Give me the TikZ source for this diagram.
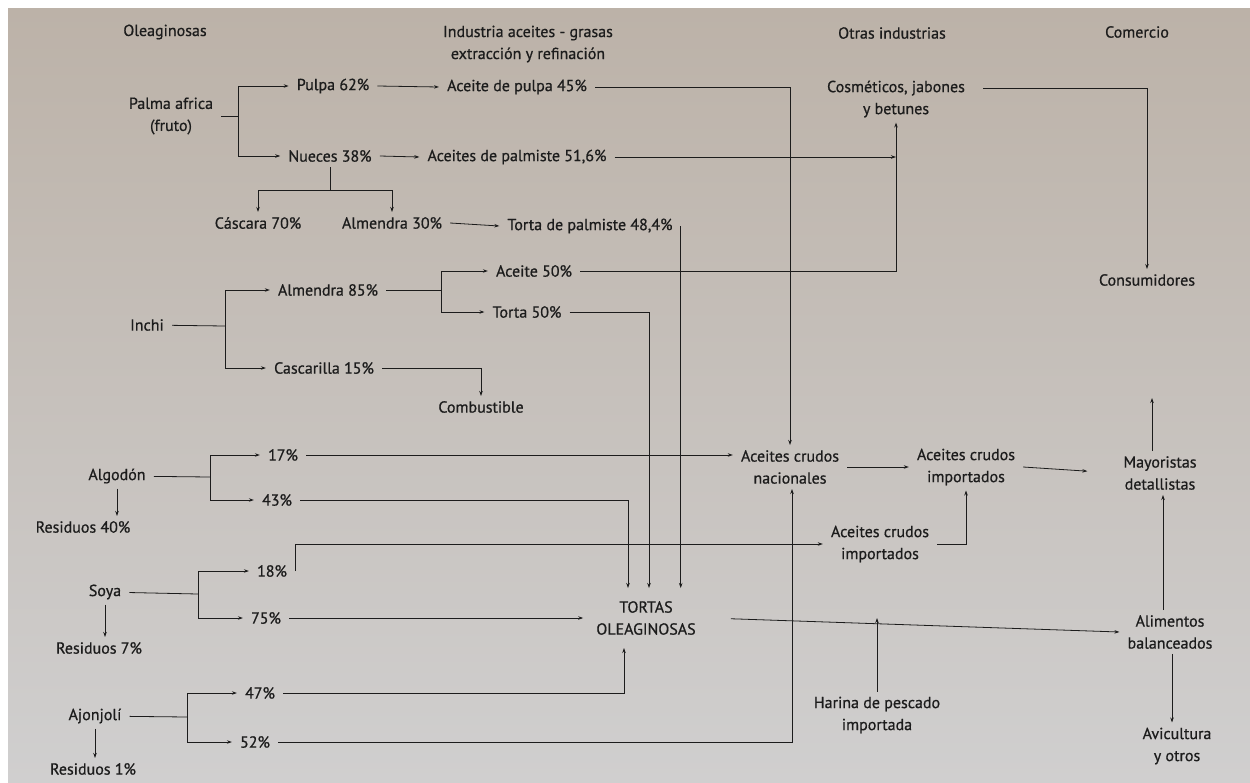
\documentclass[tikz,border=0pt]{standalone}
\usepackage{fontspec}
\setmainfont{PT Sans}[BoldFont=PT Sans, BoldFeatures={FakeBold=0.7}]
\usetikzlibrary{arrows.meta}
\definecolor{papel}{RGB}{188,178,168}
\definecolor{papelbajo}{RGB}{208,207,207}
\definecolor{tinta}{RGB}{28,28,28}

\begin{document}
\begin{tikzpicture}[x=1pt, y=-1pt,
    every node/.style={inner xsep=8pt, inner ysep=5pt, align=center, text=tinta,
      font=\fontsize{16}{22}\selectfont\bfseries},
    linea/.style={draw=tinta, line width=0.8pt},
    flecha/.style={linea, -{Stealth[length=5pt,width=3.5pt]}}]
    % fondo de la pagina
    \useasboundingbox (0,0) rectangle (1250,782);
    \fill[white] (0,0) rectangle (1250,782);
    \shade[top color=papel, bottom color=papelbajo] (8,8) rectangle (1250,782);

    % encabezados de columnas
    \node (olea) at (165,32) {Oleaginosas};
    \node (indus) at (528,44) {Industria aceites - grasas\\extracción y refinación};
    \node (otras) at (892,33) {Otras industrias};
    \node (comer) at (1137,32) {Comercio};

    % palma africana
    \node (palma) at (171,116) {Palma africa\\(fruto)};
    \node (pulpa) at (333,86) {Pulpa 62\%};
    \node (nueces) at (330,156) {Nueces 38\%};
    \node (apulpa) at (517,87) {Aceite de pulpa 45\%};
    \node (apalm) at (517,157) {Aceites de palmiste 51,6\%};
    \node (cascara) at (258,223) {Cáscara 70\%};
    \node (alm30) at (392,223) {Almendra 30\%};
    \node (tpalm) at (590,226) {Torta de palmiste 48,4\%};
    \node (cosme) at (896,99) {Cosméticos, jabones\\y betunes};
    \node (consu) at (1147,280) {Consumidores};

    % inchi
    \node (inchi) at (147,325) {Inchi};
    \node (alm85) at (328,290) {Almendra 85\%};
    \node (casca) at (324,368) {Cascarilla 15\%};
    \node (ac50) at (534,271) {Aceite 50\%};
    \node (to50) at (527,312) {Torta 50\%};
    \node (combu) at (481,407) {Combustible};

    % algodon, soya, ajonjoli
    \node (algo) at (117,476) {Algodón};
    \node (res40) at (83,527) {Residuos 40\%};
    \node (p17) at (283,455) {17\%};
    \node (p43) at (277,500) {43\%};
    \node (soya) at (105,592) {Soya};
    \node (res7) at (99,648) {Residuos 7\%};
    \node (p18) at (272,571) {18\%};
    \node (p75) at (266,618) {75\%};
    \node (ajon) at (95,716) {Ajonjolí};
    \node (res1) at (93,769) {Residuos 1\%};
    \node (p47) at (260,693) {47\%};
    \node (p52) at (255,742) {52\%};

    % destinos
    \node (acn) at (790,467) {Aceites crudos\\nacionales};
    \node (aci) at (966,467) {Aceites crudos\\importados};
    \node (aci2) at (880,544) {Aceites crudos\\importados};
    \node (mayo) at (1160,473) {Mayoristas\\detallistas};
    \node[inner sep=13pt] (tortas) at (646,618) {TORTAS\\OLEAGINOSAS};
    \node (harina) at (877,715) {Harina de pescado\\importada};
    \node (alim) at (1170,632) {Alimentos\\balanceados};
    \node (avic) at (1177,746) {Avicultura\\y otros};

    % puntos de bifurcacion
    \coordinate (bpalma) at (238,116);
    \coordinate (bnueces) at (330,190);
    \coordinate (binchi) at (225,326);
    \coordinate (balm) at (441,290);
    \coordinate (balgo) at (210,477);
    \coordinate (bsoya) at (198,594);
    \coordinate (bajon) at (187,717);
    \coordinate (mayotop) at (1152,398);

    % flechas de palma
    \draw[linea] (palma) -- (bpalma);
    \draw[flecha] (bpalma) |- (pulpa);
    \draw[flecha] (bpalma) |- (nueces);
    \draw[flecha] (pulpa.east) -- (apulpa.west);
    \draw[flecha] (nueces.east) -- (apalm.west);
    \draw[linea] (nueces) -- (bnueces);
    \draw[flecha] (bnueces) -| (cascara);
    \draw[flecha] (bnueces) -| (alm30);
    \draw[flecha] (alm30.east) -- (tpalm.west);
    \draw[flecha] (tpalm.east) -- (tpalm.east |- tortas.north);
    \draw[flecha] (apulpa.east) -| (acn.north);
    \draw[flecha] (apalm.east) -- (apalm.east -| cosme.south);
    \draw[flecha, shorten <=10pt] ([yshift=11pt]cosme.east) -| (consu.north);

    % flechas de inchi
    \draw[linea] (inchi) -- (binchi);
    \draw[flecha] (binchi) |- (alm85);
    \draw[flecha] (binchi) |- (casca);
    \draw[linea] (alm85) -- (balm);
    \draw[flecha] (balm) |- (ac50);
    \draw[flecha] (balm) |- (to50);
    \draw[flecha] (ac50.east) -| (cosme.south);
    \draw[flecha] (to50.east) -| ([xshift=3pt]tortas.north);
    \draw[flecha] (casca.east) -| (combu.north);

    % flechas de algodon
    \draw[flecha] (algo.south) -- (algo.south |- res40.north);
    \draw[linea] (algo) -- (balgo);
    \draw[flecha] (balgo) |- (p17);
    \draw[flecha] (balgo) |- (p43);
    \draw[flecha] (p17.east) -- (p17.east -| acn.west);
    \draw[flecha] (p43.east) -| ([xshift=-18pt]tortas.north);

    % flechas de soya
    \draw[flecha] (soya.south) -- (soya.south |- res7.north);
    \draw[linea] (soya) -- (bsoya);
    \draw[flecha] (bsoya) |- (p18);
    \draw[flecha] (bsoya) |- (p75);
    \draw[flecha] (p18.east) |- (aci2.west);
    \draw[flecha] (p75.east) -- (p75.east -| tortas.west);

    % flechas de ajonjoli
    \draw[flecha] (ajon.south) -- (ajon.south |- res1.north);
    \draw[linea] (ajon) -- (bajon);
    \draw[flecha] (bajon) |- (p47);
    \draw[flecha] (bajon) |- (p52);
    \draw[flecha] (p47.east) -| ([xshift=-22pt]tortas.south);
    \draw[flecha] (p52.east) -| ([xshift=2pt]acn.south);

    % aceites y comercio
    \draw[flecha] (acn.east) -- (aci.west);
    \draw[flecha, shorten >=28pt] (aci.east) -- (mayo.west);
    \draw[flecha] (aci2.east) -| (aci.south);
    \draw[flecha] (mayo.north -| mayotop) -- (mayotop);
    \draw[flecha, shorten <=22pt] (tortas.east) -- (alim.west);
    \draw[flecha] (harina.north) -- (harina.north |- tortas.east);
    \draw[flecha] ([xshift=-7pt]alim.north) -- ([xshift=-7pt]alim.north |- mayo.south);
    \draw[flecha] ([xshift=2pt]alim.south) -- ([xshift=2pt]alim.south |- avic.north);
\end{tikzpicture}
\end{document}
